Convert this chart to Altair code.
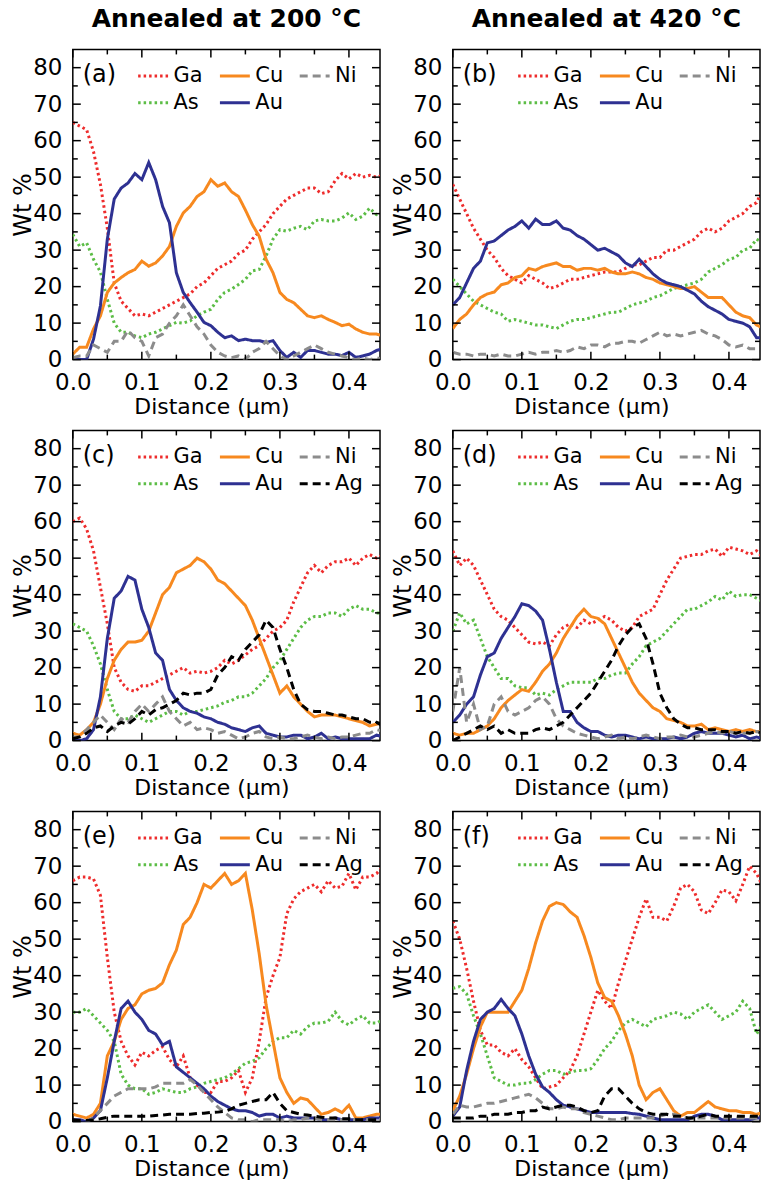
import altair as alt
import pandas as pd

# Sampling positions along the line scan (µm)
distance = [0.00, 0.01, 0.02, 0.03, 0.04, 0.05, 0.06, 0.07, 0.08, 0.09,
            0.10, 0.11, 0.12, 0.13, 0.14, 0.15, 0.16, 0.17, 0.18, 0.19,
            0.20, 0.21, 0.22, 0.23, 0.24, 0.25, 0.26, 0.27, 0.28, 0.29,
            0.30, 0.31, 0.32, 0.33, 0.34, 0.35, 0.36, 0.37, 0.38, 0.39,
            0.40, 0.41, 0.42, 0.43, 0.44, 0.45]

# (a) 200 °C
a_Ga = [65, 64, 63, 57, 48, 36, 21, 16, 14, 12, 12.5, 12, 13, 14, 15, 16, 17, 18, 20, 21,
        23, 25, 26, 27, 29, 30, 33, 35, 37, 40, 42, 44, 45, 46, 47, 47, 45.5, 46, 49, 51,
        49.5, 51, 50, 50.5, 50, 50.5]
a_As = [34.3, 31, 32, 27.5, 24, 16.5, 10, 7.5, 7.5, 6.5, 6, 7, 7.5, 8.4, 9.3, 10.2, 10, 10.6, 12, 13,
        13.8, 16.5, 18.4, 19.3, 20.6, 22, 24.3, 24.7, 28.4, 33, 35.6, 35.2, 36, 36.5, 35.6, 38, 38.4, 38, 38, 38.8,
        40.2, 38.4, 39.3, 41.5, 39.7, 40]
a_Cu = [1.5, 3.4, 3.4, 8.4, 12, 18.4, 21, 22.5, 23.8, 24.7, 27, 25.6, 26.5, 28.4, 31, 36.5, 40.2, 42, 44.7, 46,
        49.3, 47.5, 48.4, 46, 44.7, 41, 37, 33.8, 27.5, 23.8, 18.4, 16.5, 15.6, 13.8, 12, 11.5, 12, 11, 10.2, 9.3,
        9.7, 8.4, 7.5, 7, 7, 6.5]
a_Au = [0, 0, 0, 5.6, 14.7, 33, 44, 47, 48.4, 51, 49.3, 54, 49.3, 42, 37.5, 23.8, 18.4, 15.6, 13, 10.2,
        9.3, 7.5, 6, 6.5, 5.2, 5.6, 5.2, 5.2, 4.7, 5.2, 2.5, 0.6, 2, 0.6, 2.5, 2.5, 2, 1.5, 1.5, 1.1,
        2, 0.6, 1, 1.5, 2.5, 3]
a_Ni = [0.5, 1, 1, 4, 3, 2, 5, 5, 8, 6, 5, 1, 6, 7, 10, 12, 15, 12, 9, 7,
        4, 2, 1, 0.5, 1, 0, 2, 3, 5, 3, 1, 0, 1, 2, 3, 4, 3, 2, 1.5, 1,
        0.5, 0, 0.5, 0, 0.5, 0]

# (b) 420 °C
b_Ga = [48, 44, 40, 36, 33, 30, 28, 25, 23, 22, 21, 23, 22, 21, 19.5, 20, 21, 22, 22, 22.5,
        23, 23.5, 24, 24, 24, 25, 26, 26, 27, 28, 28, 30, 30, 31, 32, 33, 35, 36, 35, 36,
        38, 39, 40, 42, 43, 47]
b_As = [22, 20, 18, 16, 15, 14, 13, 12.5, 10.5, 11, 10.5, 10, 9.5, 9.5, 9, 8.5, 9.5, 10.5, 11, 11,
        11.5, 12, 12.5, 13, 13, 14, 15, 15.5, 16, 17, 17.5, 18.5, 19.5, 20, 20.5, 21, 22, 24, 25, 26,
        27.5, 28, 30, 30.5, 33, 32]
b_Cu = [8.5, 11, 12.5, 15, 17, 18, 18.5, 20.5, 21, 22.5, 23, 25, 24.5, 25.5, 26, 26.5, 25.5, 25.5, 24.5, 25,
        25, 24.5, 25, 24, 23.5, 23.5, 24, 23.5, 22.5, 22, 21, 20.5, 20, 19.5, 19.5, 20, 18.5, 17, 17, 17,
        15, 13, 12, 11.5, 9.5, 8.5]
b_Au = [15, 17, 21, 25, 27, 32, 32.5, 34, 35.5, 36.5, 38, 36, 38.5, 37, 37, 38, 36, 35.5, 34, 33,
        31.5, 30, 30.5, 29.5, 28.5, 26.5, 25.5, 27.5, 25.5, 23.5, 22, 21, 20.5, 20, 19, 18, 16, 14.5, 13.5, 12.5,
        11, 10.5, 10, 9, 6, 6]
b_Ni = [2, 1.5, 1.5, 1, 1.5, 1.5, 1, 1.5, 1, 1, 1.5, 2, 1.5, 2, 2, 2.5, 2, 2.5, 3.5, 3,
        4, 4, 3.5, 4.5, 4.5, 5, 5, 4.5, 5.5, 6.5, 7.5, 6.5, 7, 6.5, 7, 7.5, 8, 7, 6.5, 5.5,
        4, 3.5, 4, 3, 3, 3]

# (c) 200 °C
c_Ga = [60, 61, 58, 52, 42, 32, 20, 16, 14, 13.5, 15, 15, 16, 17, 18, 19, 20, 18.5, 19, 18.5,
        19, 20, 22, 21, 22, 23.5, 25, 26, 28, 30, 31, 33, 38, 42, 46, 48, 46, 48, 49, 49,
        50, 48, 50, 51, 50, 51]
c_As = [32, 31, 30, 26, 21, 14, 8, 6, 6, 7, 6, 5, 6, 7, 8, 8, 7, 8, 8, 8.5,
        9, 9.5, 10.5, 11, 12, 12, 13, 15, 17, 20, 22, 25, 28, 31, 33, 34, 34, 35, 35, 34,
        36, 37, 36, 36, 35, 35]
c_Cu = [2, 1.5, 3, 5, 10, 17, 22, 25, 27, 27, 27.5, 30, 35, 40, 42, 46, 47, 48, 50, 49,
        47, 44, 43, 41, 39, 37, 33, 28, 23, 18, 13, 15, 12, 10, 8, 6.5, 7, 7, 7, 6.5,
        6, 5.5, 5, 4, 4.5, 5]
c_Au = [0, 0, 0.5, 3, 12, 28, 39, 41, 45, 44, 36, 31, 24, 22, 14, 11, 9, 8, 7.5, 6.5,
        6, 5, 4.5, 3.5, 3, 2.5, 3.5, 4, 2, 1.5, 1, 1, 1.5, 1.5, 0.5, 1, 2, 0.5, 1, 0.5,
        0.5, 0.5, 0.5, 0.5, 1.5, 1]
c_Ni = [1, 1, 3, 5, 7, 5, 3, 6, 5, 8, 10, 8, 10, 12, 8, 6, 4, 5, 3, 3.5,
        3, 2, 2.5, 1.5, 0.5, 1, 2, 2.5, 1, 0.5, 1, 0.5, 0.5, 1, 1.5, 1, 0.5, 1, 0.5, 1,
        1, 1.5, 2, 2, 3, 2.5]
c_Ag = [0.5, 1, 2, 3.5, 4, 2.5, 4, 5, 4.5, 6, 8, 7, 8.5, 9, 10, 11, 13, 12.5, 13, 13,
        14, 18, 20, 23, 22, 25, 27, 29, 33, 31, 25, 20, 14, 10, 8.5, 8, 8, 7.5, 7, 7,
        6.5, 6, 6, 5, 5, 4]

# (d) 420 °C
d_Ga = [52, 48, 50, 48, 44, 40, 36, 34, 33, 31, 29, 27, 26.5, 27, 26, 29, 31, 32, 31, 33,
        32, 33, 34, 33, 31, 30, 31, 34, 35, 36, 40, 44, 47, 50, 50.5, 51, 51, 52, 52.5, 50.5,
        53, 52.5, 52, 51, 52, 50]
d_As = [30, 35, 32, 33, 28, 23, 20, 17, 17, 15, 14.5, 14.5, 12.5, 13, 12.5, 14, 15, 16, 16, 16,
        16, 17, 17, 18, 18.5, 18.5, 21, 23, 26, 27, 28, 30, 32, 34, 36, 36, 37, 38, 39.5, 38.5,
        41, 39.5, 40, 40, 39, 38]
d_Cu = [2, 1.5, 2, 2, 3, 4, 6, 9, 11, 12.5, 14, 13.5, 16, 19, 21, 24, 28, 31, 34, 36,
        34, 33.5, 32, 28, 24, 20, 16, 13, 11, 9, 8, 6, 5.5, 5, 4, 4, 4.5, 3, 3.5, 3,
        2.5, 3, 2.5, 3, 2.5, 2.5]
d_Au = [5, 7, 10, 12, 18, 23, 24, 28, 31, 34, 37.5, 37, 35.5, 33, 25, 16, 8, 8, 5, 3.5,
        2.5, 2.5, 1.5, 1, 1.5, 1.5, 1, 0.5, 1, 0.5, 0.5, 0.5, 1, 0.5, 1, 2, 2.5, 2, 2, 2,
        1.5, 1, 1.5, 0.5, 1, 0.5]
d_Ni = [8, 20, 5, 10, 3, 4, 10, 12, 8, 7, 8, 9, 11, 12, 10, 6, 4, 3, 2, 1.5,
        1, 0.5, 1, 1.5, 0.5, 1, 0.5, 1, 1.5, 1, 0.5, 1, 1, 1.5, 1, 1, 1.5, 2, 2.5, 2,
        2.5, 2, 2, 2, 2.5, 2]
d_Ag = [0, 1, 2, 3, 4, 3, 4, 2, 3, 2, 2, 2, 3, 3.5, 3, 4, 5, 7, 9, 11,
        13, 16, 19, 22, 26, 29, 31, 32, 28, 21, 13, 9, 6, 4.5, 3.5, 3.5, 3, 3, 3, 2.5,
        2.5, 2, 2.5, 2, 2.5, 2]

# (e) 200 °C
e_Ga = [66, 67, 67, 66.5, 62, 45, 30, 22, 18, 15.5, 19, 18, 19.5, 20.5, 17, 15, 18, 12, 10, 8,
        8, 11, 11, 12, 14, 8, 12, 22, 34, 40, 45, 57, 61, 63, 64, 65, 63, 66, 64, 64.5,
        68, 63.5, 67, 67, 68, 70]
e_As = [30, 30, 31, 29, 27, 25, 22, 13, 10, 9, 9, 7.5, 8, 9, 8.5, 8, 8, 9, 9.5, 10.5,
        11, 11.5, 12, 13, 14.5, 16, 16.5, 17.5, 20, 22, 23, 23, 25, 24, 26, 27, 27, 27.5, 30, 27.5,
        26.5, 28, 29, 27, 27, 28]
e_Cu = [2, 1.5, 1, 2, 5, 18, 22, 28, 31, 32, 35, 36, 36.5, 38, 43, 47, 54, 56, 60, 65,
        64, 66, 68, 65, 66, 68, 58, 46, 32, 22, 12, 8, 5, 6.5, 6, 4, 2, 2.5, 3.5, 2.5,
        4.5, 1, 1, 1.5, 2, 2]
e_Au = [0.5, 0.5, 0, 1, 3, 12, 22, 31, 33, 30, 28, 25, 24, 21, 22, 15, 13.5, 12, 10.5, 9,
        7, 5.5, 4.5, 3.5, 3, 3, 2.5, 1.5, 2, 2, 1, 1.5, 1, 1, 1, 1, 0.5, 0.5, 1, 0.5,
        0.5, 0.5, 0.5, 1, 1, 1]
e_Ni = [0, 0, 0, 1, 3, 5, 7, 8, 9, 9, 9, 9, 9.5, 10.5, 10.5, 10.5, 10.5, 11.5, 10, 8,
        6, 4, 2.5, 1, 0.5, 0.5, 0, 0.5, 0.5, 0.5, 0.5, 0, 0.5, 0.5, 1, 1, 0.5, 0.5, 0.5, 0.5,
        0.5, 0.5, 0.5, 0.5, 0.5, 0.5]
e_Ag = [0.5, 0.3, 0.3, 0.5, 0.8, 1.2, 1.5, 1.5, 1.5, 1.5, 1.5, 1.5, 1.7, 1.8, 2, 2, 2, 2, 2.2, 2.3,
        2.5, 2.6, 2.8, 3.5, 4.5, 5, 5.5, 6, 6, 8, 5, 3, 2.5, 2, 1.8, 1.5, 1.2, 1, 1, 0.8,
        0.8, 0.6, 0.5, 0.5, 0.5, 0.5]

# (f) 420 °C
f_Ga = [55, 50, 42, 33, 25, 21, 21, 19, 18, 20, 17, 15, 12, 9, 9.5, 10, 12, 14, 18, 24,
        30, 36, 33, 31, 38, 44, 50, 56, 61, 56, 56, 55, 59, 64, 65, 63, 58, 57, 60, 63.5,
        63, 60.5, 65, 70, 68, 64]
f_As = [36.5, 37, 35, 29, 24, 18, 12, 11, 10, 10, 10.5, 10.5, 11.5, 13, 14, 14, 13, 13.5, 14, 14,
        14.5, 17, 20, 22, 25, 27, 28, 27, 26, 28, 28.5, 29, 30, 29.5, 28, 30, 31, 32, 30, 28,
        29, 30, 33, 31, 24, 27]
f_Cu = [3, 7, 13, 20, 26, 30, 30, 30, 30, 33, 36, 42, 49, 55, 59, 60, 59.5, 57.5, 56, 51,
        45, 38, 34, 33, 29, 24, 18, 10, 6, 8, 9, 6, 3, 1.5, 2.5, 2.5, 4, 5.5, 4, 3.5,
        3, 3, 2.5, 2.5, 2, 2.5]
f_Au = [1.5, 4, 14, 22, 28, 30, 31, 33.5, 31, 29, 24, 18, 13, 9.5, 8, 6, 4.5, 4, 3.5, 3,
        2.5, 2.5, 2.5, 2.5, 2.5, 2.5, 2.2, 2, 1.5, 1, 0.5, 0.5, 0.5, 0.5, 0.5, 1.5, 2, 2, 1.5, 0.5,
        0.5, 0.5, 0.5, 0.5, 1, 1]
f_Ni = [2, 4.5, 4, 4, 4.5, 5, 5, 5.5, 6, 6.5, 7, 7.5, 6.5, 5, 3.5, 3.5, 4, 3.5, 3.5, 2.5,
        2, 1.5, 1, 0.5, 0.5, 1, 1, 1, 1, 1, 1.5, 2, 2, 1.5, 1, 1, 1, 1, 1, 1,
        1, 1, 1, 1, 1, 1]
f_Ag = [1, 1, 1, 1, 1.5, 1.5, 2, 2, 2, 2.5, 2.5, 3, 3, 4, 3.5, 4, 4.5, 4.5, 4, 3,
        2.5, 3, 7, 9, 9, 7, 5, 3.5, 2.5, 2, 2, 2, 1.5, 1.5, 1, 1, 1.5, 2, 1.5, 1.5,
        1.5, 1.5, 1.5, 1.5, 1.5, 1.5]

# Axis tick positions
x_major = [0.0, 0.1, 0.2, 0.3, 0.4]
x_minor = [0.05, 0.15, 0.25, 0.35]
y_major = [0, 10, 20, 30, 40, 50, 60, 70, 80]
y_minor = [5, 15, 25, 35, 45, 55, 65, 75]

# Element styling. The legend fills column by column in two rows,
# so this order gives rows "Ga Cu Ni" and "As Au Ag".
ELEMENTS = ["Ga", "As", "Cu", "Au", "Ni", "Ag"]
COLORS = {"Ga": "#ee2c2c", "Cu": "#f7891f", "Ni": "#8c8c8c",
          "As": "#5cbd46", "Au": "#2e3192", "Ag": "#000000"}
DASHES = {"Ga": [2.5, 3], "Cu": [1, 0], "Ni": [8, 5],
          "As": [2.5, 3], "Au": [1, 0], "Ag": [8, 5]}

FONT = "DejaVu Sans"
W, H = 308, 311
MAJOR, MINOR = 8, 5
X_SCALE = alt.Scale(domain=[0, 0.445], nice=False, zero=False)
Y_SCALE = alt.Scale(domain=[0, 85], nice=False)

X_AXIS = alt.Axis(
    values=x_major, format=".1f", ticks=False, tickSize=0, domain=False, grid=False,
    labelFont=FONT, labelFontSize=23, labelColor="black", labelPadding=12,
    labelFlush=False, labelOverlap=False,
    title="Distance (µm)", titleFont=FONT, titleFontSize=22, titleFontWeight="normal",
    titleColor="black", titleX=139, titleY=37, titleBaseline="top")
Y_AXIS = alt.Axis(
    values=y_major, ticks=False, tickSize=0, domain=False, grid=False,
    labelFont=FONT, labelFontSize=23, labelColor="black", labelPadding=11,
    labelFlush=False, labelOverlap=False,
    title="Wt %", titleFont=FONT, titleFontSize=24, titleFontWeight="normal",
    titleColor="black", titleX=-37, titleBaseline="bottom")


def tick_rules(values, channel, length):
    df = pd.DataFrame({"v": values})
    base = alt.Chart(df).mark_rule(color="black", strokeWidth=1.5)
    if channel == "y":
        enc = alt.Y("v:Q", scale=Y_SCALE, axis=Y_AXIS)
        return [base.encode(y=enc, x=alt.value(0), x2=alt.value(length)),
                base.encode(y=enc, x=alt.value(W - length), x2=alt.value(W))]
    enc = alt.X("v:Q", scale=X_SCALE, axis=X_AXIS)
    return [base.encode(x=enc, y=alt.value(H - length), y2=alt.value(H)),
            base.encode(x=enc, y=alt.value(0), y2=alt.value(length))]


def panel(tag, series, title=None):
    rows = []
    for el in ELEMENTS:
        if el in series:
            for d, v in zip(distance, series[el]):
                rows.append({"distance": d, "wt": v, "element": el})
    df = pd.DataFrame(rows)
    dom = [e for e in ELEMENTS if e in series]
    legend = alt.Legend(
        orient="none", legendX=64, legendY=10, columns=3, title=None,
        symbolType="stroke", symbolSize=900, symbolStrokeWidth=3,
        labelFont=FONT, labelFontSize=21, labelColor="black", labelOffset=4,
        columnPadding=10, rowPadding=-2, padding=0,
    )
    lines = alt.Chart(df).mark_line(strokeWidth=3, clip=True).encode(
        x=alt.X("distance:Q", scale=X_SCALE, axis=X_AXIS),
        y=alt.Y("wt:Q", scale=Y_SCALE, axis=Y_AXIS),
        color=alt.Color("element:N", scale=alt.Scale(domain=dom, range=[COLORS[e] for e in dom]),
                        legend=legend),
        strokeDash=alt.StrokeDash("element:N", scale=alt.Scale(domain=dom, range=[DASHES[e] for e in dom]),
                                  legend=legend),
    )
    label = alt.Chart(pd.DataFrame({"t": [tag]})).mark_text(
        align="left", baseline="middle", font=FONT, fontSize=24, color="black"
    ).encode(text="t:N", x=alt.value(10), y=alt.value(26))

    layers = [lines]
    layers += tick_rules(y_major, "y", MAJOR) + tick_rules(y_minor, "y", MINOR)
    layers += tick_rules(x_major, "x", MAJOR) + tick_rules(x_minor, "x", MINOR)
    layers.append(label)
    props = dict(width=W, height=H)
    if title:
        props["title"] = alt.Title(title, anchor="middle", frame="group", font=FONT, fontSize=25,
                                   fontWeight="bold", color="black", offset=-8, baseline="bottom")
    return alt.layer(*layers).properties(**props)


def row(left, right):
    return alt.hconcat(left, right, spacing=9).resolve_scale(
        color="independent", strokeDash="independent"
    ).resolve_legend(color="independent", strokeDash="independent")


pa = panel("(a)", {"Ga": a_Ga, "As": a_As, "Cu": a_Cu, "Au": a_Au, "Ni": a_Ni}, "Annealed at 200 °C")
pb = panel("(b)", {"Ga": b_Ga, "As": b_As, "Cu": b_Cu, "Au": b_Au, "Ni": b_Ni}, "Annealed at 420 °C")
pc = panel("(c)", {"Ga": c_Ga, "As": c_As, "Cu": c_Cu, "Au": c_Au, "Ni": c_Ni, "Ag": c_Ag})
pd_ = panel("(d)", {"Ga": d_Ga, "As": d_As, "Cu": d_Cu, "Au": d_Au, "Ni": d_Ni, "Ag": d_Ag})
pe = panel("(e)", {"Ga": e_Ga, "As": e_As, "Cu": e_Cu, "Au": e_Au, "Ni": e_Ni, "Ag": e_Ag})
pf = panel("(f)", {"Ga": f_Ga, "As": f_As, "Cu": f_Cu, "Au": f_Au, "Ni": f_Ni, "Ag": f_Ag})

chart = alt.vconcat(row(pa, pb), row(pc, pd_), row(pe, pf), spacing=10).resolve_scale(
    color="independent", strokeDash="independent"
).resolve_legend(
    color="independent", strokeDash="independent"
).configure(
    padding={"left": 11, "top": 4, "right": 0, "bottom": 0},
    background="white",
).configure_view(stroke="black", strokeWidth=1.5)

chart.save("out.html", embed_options={"renderer": "svg", "actions": False})
